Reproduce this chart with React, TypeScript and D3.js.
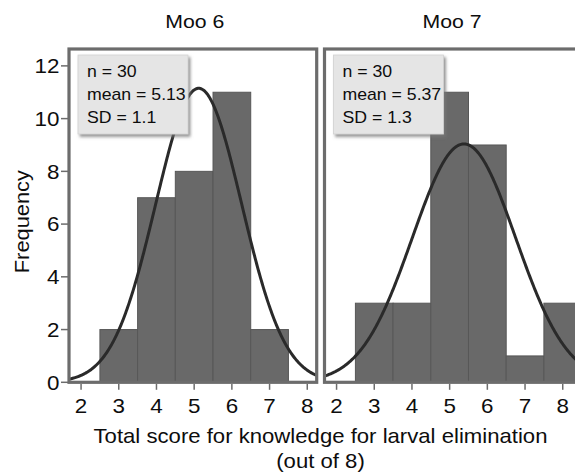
import React from "react";
import * as d3 from "d3";

// ---- data ----
const scoreBins = [2, 3, 4, 5, 6, 7, 8];
const moo6Counts = [0, 2, 7, 8, 11, 2, 0];
const moo7Counts = [0, 3, 3, 11, 9, 1, 3];
const panelTitles = ["Moo 6", "Moo 7"];
const panelN = [30, 30];
const meanLabels = ["5.13", "5.37"];
const sdLabels = ["1.1", "1.3"];
// fitted normal curve as drawn in the picture (centre, spread, peak height)
const curveMeans = [5.12, 5.38];
const curveSDs = [1.14, 1.37];
const curvePeaks = [11.15, 9.04];
const xTicks = [2, 3, 4, 5, 6, 7, 8];
const yTicks = [0, 2, 4, 6, 8, 10, 12];

const FONT = "'Liberation Sans', Arial, Helvetica, sans-serif";

function T({ x, y, size, sx = 1, anchor = "start", rotate = 0, children, fill = "#0d0d0d" }: any) {
  return (
    <text
      transform={`translate(${x},${y}) rotate(${rotate}) scale(${sx},1)`}
      fontSize={size}
      fontFamily={FONT}
      textAnchor={anchor}
      fill={fill}
    >
      {children}
    </text>
  );
}

export default function App() {
  const W = 575, H = 474;
  const top = 49, bottom = 382.3;
  const y = d3.scaleLinear().domain([0, 12.64]).range([bottom, top]);
  const panels = [
    { x: d3.scaleLinear().domain([1.68, 8.25]).range([69, 316.7]), counts: moo6Counts },
    { x: d3.scaleLinear().domain([1.68, 8.45]).range([324.5, 579.7]), counts: moo7Counts },
  ];

  return (
    <svg width={W} height={H} style={{ position: "absolute", left: 0, top: 0, background: "#fff" }}>
      <defs>
        {panels.map((p, i) => (
          <clipPath id={`clip${i}`} key={i}>
            <rect x={p.x.range()[0]} y={top} width={p.x.range()[1] - p.x.range()[0]} height={bottom - top} />
          </clipPath>
        ))}
        <filter id="shadow" x="-10%" y="-10%" width="130%" height="130%">
          <feDropShadow dx="2" dy="2.5" stdDeviation="1.5" floodColor="#777" floodOpacity="0.8" />
        </filter>
      </defs>

      {panels.map((p, i) => {
        const [x0, x1] = p.x.range();
        const mu = curveMeans[i], sd = curveSDs[i], pk = curvePeaks[i];
        const [d0, d1] = p.x.domain();
        const pts = d3.range(d0, d1 + 0.01, 0.02).map((v) => [v, pk * Math.exp(-((v - mu) ** 2) / (2 * sd * sd))]);
        const line = d3
          .line<number[]>()
          .x((d) => p.x(d[0]))
          .y((d) => y(d[1]));
        return (
          <g key={i}>
            <g clipPath={`url(#clip${i})`}>
              {scoreBins.map((s, j) =>
                p.counts[j] > 0 ? (
                  <rect
                    key={j}
                    x={p.x(s - 0.5)}
                    y={y(p.counts[j])}
                    width={p.x(s + 0.5) - p.x(s - 0.5)}
                    height={y(0) - y(p.counts[j])}
                    fill="#696969"
                    stroke="#575757"
                    strokeWidth={1}
                  />
                ) : null
              )}
              <path d={line(pts) || ""} fill="none" stroke="#2a2a2a" strokeWidth={3} />
            </g>
            {/* info box */}
            <rect
              x={x0 + 9}
              y={55}
              width={110}
              height={79}
              fill="#e5e5e5"
              stroke="#d2d2d2"
              strokeWidth={0.8}
              filter="url(#shadow)"
            />
            <T x={x0 + 18} y={76.5} size={17} sx={1.04}>{`n = ${panelN[i]}`}</T>
            <T x={x0 + 18} y={100} size={17} sx={1.04}>{`mean = ${meanLabels[i]}`}</T>
            <T x={x0 + 18} y={123} size={17} sx={1.04}>{`SD = ${sdLabels[i]}`}</T>
            {/* frame */}
            <rect x={x0} y={top} width={x1 - x0} height={bottom - top} fill="none" stroke="#6c6c6c" strokeWidth={3.2} />
            {/* x ticks */}
            {xTicks.map((t) => (
              <g key={t}>
                <line x1={p.x(t)} x2={p.x(t)} y1={bottom + 1.6} y2={bottom + 7.5} stroke="#6c6c6c" strokeWidth={1.5} />
                <T x={p.x(t)} y={413} size={20} sx={1.12} anchor="middle">{t}</T>
              </g>
            ))}
            <T x={(x0 + x1) / 2 + (i === 0 ? 2 : 0)} y={27.5} size={18.5} sx={1.15} anchor="middle">{panelTitles[i]}</T>
          </g>
        );
      })}

      {/* y axis */}
      {yTicks.map((t) => (
        <g key={t}>
          <line x1={61} x2={68} y1={y(t)} y2={y(t)} stroke="#6c6c6c" strokeWidth={1.5} />
          <T x={59.5} y={y(t) + 7.2} size={20} sx={1.12} anchor="end">{t}</T>
        </g>
      ))}
      <T x={28.5} y={(top + bottom) / 2 + 6} size={19.5} sx={1.12} anchor="middle" rotate={-90}>Frequency</T>

      <T x={320.5} y={443} size={20.5} sx={1.08} anchor="middle">Total score for knowledge for larval elimination</T>
      <T x={320.5} y={467.5} size={20.5} sx={1.08} anchor="middle">(out of 8)</T>
    </svg>
  );
}
